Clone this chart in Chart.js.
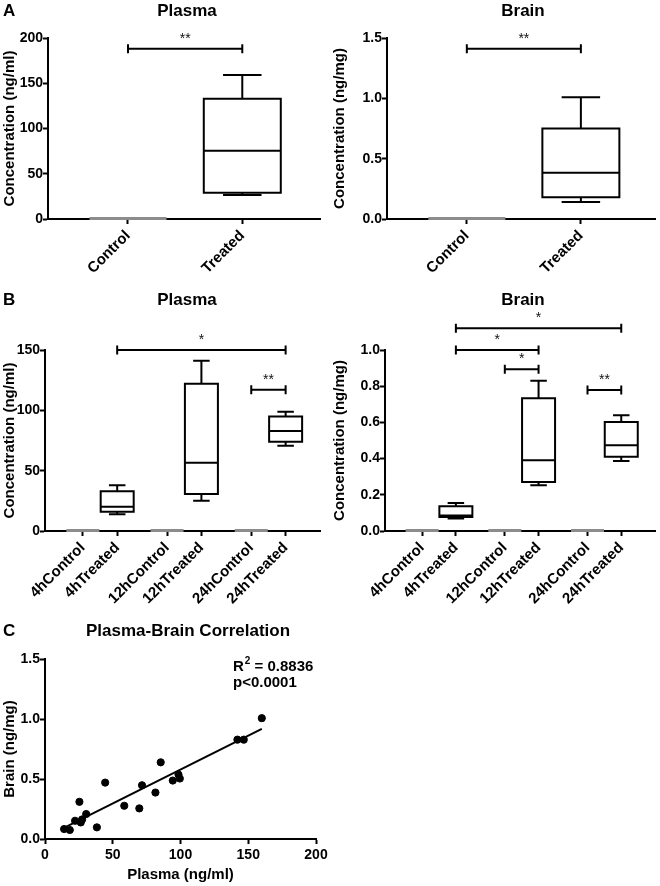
<!DOCTYPE html>
<html>
<head>
<meta charset="utf-8">
<script src="https://cdn.jsdelivr.net/npm/chart.js@4.4.1/dist/chart.umd.min.js"></script>
<style>
    body { margin: 0; background: #fff; }
    #page { position: relative; width: 660px; height: 886px; overflow: hidden; }
    #page canvas { position: absolute; }
</style>
</head>
<body>
<div id="page">
    <canvas id="aPlasma" width="330" height="290" style="left:0;top:0"></canvas>
    <canvas id="aBrain" width="330" height="290" style="left:330px;top:0"></canvas>
    <canvas id="bPlasma" width="330" height="315" style="left:0;top:290px"></canvas>
    <canvas id="bBrain" width="330" height="315" style="left:330px;top:290px"></canvas>
    <canvas id="cCorr" width="340" height="281" style="left:0;top:605px"></canvas>
</div>
<script>
// ---- data ----
const groupsA = ["Control", "Treated"];
const groupsB = ["4hControl", "4hTreated", "12hControl", "12hTreated", "24hControl", "24hTreated"];

// box stats per group: [min, q1, median, q3, max]
const plasmaA = [[0, 0, 0, 0, 0], [26.5, 29, 75.5, 133, 159]];
const brainA = [[0, 0, 0, 0, 0], [0.141, 0.18, 0.384, 0.751, 1.008]];
const plasmaB = [
    [0, 0, 0, 0, 0], [13.8, 16, 20, 33, 38],
    [0, 0, 0, 0, 0], [25, 30.7, 56.6, 122, 141],
    [0, 0, 0, 0, 0], [70.7, 74, 82.9, 94.8, 98.9]
];
const brainB = [
    [0, 0, 0, 0, 0], [0.069, 0.078, 0.086, 0.137, 0.155],
    [0, 0, 0, 0, 0], [0.253, 0.271, 0.391, 0.733, 0.83],
    [0, 0, 0, 0, 0], [0.387, 0.41, 0.474, 0.602, 0.639]
];

// significance brackets: [fromGroup, toGroup, yValue, label]
const sigPlasmaA = [[0, 1, 188, "**"]];
const sigBrainA = [[0, 1, 1.41, "**"]];
const sigPlasmaB = [[1, 5, 150, "*"], [4, 5, 117, "**"]];
const sigBrainB = [[1, 5, 1.12, "*"], [1, 3, 1.0, "*"], [2, 3, 0.893, "*"], [4, 5, 0.779, "**"]];

// correlation scatter
const plasmaC = [14.1, 18.3, 22.2, 25.4, 26.4, 27.4, 30.4, 38.3, 44.4, 58.5, 69.6, 71.6, 81.5, 85.4, 94.3, 98.5, 99.5, 142, 146.7, 160];
const brainC = [0.083, 0.075, 0.152, 0.31, 0.138, 0.163, 0.208, 0.097, 0.47, 0.277, 0.255, 0.448, 0.387, 0.639, 0.487, 0.537, 0.504, 0.828, 0.828, 1.007];
const fitX = [14, 160];
const fitY = [0.092, 0.918];
const fitR2 = "0.8836";
const fitP = "p<0.0001";

// x positions of the groups on the linear axis (gaps between time points)
const posA = [1, 2];
const posB = [1.1, 2.1, 3.55, 4.55, 6, 7];

const FAMILY = "'Liberation Sans', Arial, sans-serif";
const yTickFont = { family: FAMILY, size: 14, weight: "bold" };
const xTickFont = { family: FAMILY, size: 15, weight: "bold" };
const axisTitleFont = { family: FAMILY, size: 15, weight: "bold" };

// box plots, brackets and free text, all placed through the chart scales
const figurePlugin = {
    id: "figure",
    afterDatasetsDraw(chart, args, opts) {
        const ctx = chart.ctx;
        const xs = chart.scales.x;
        const ys = chart.scales.y;
        ctx.save();
        ctx.strokeStyle = "#000";
        ctx.lineWidth = 2;

        if (opts.boxes) {
            const half = opts.half;
            opts.boxes.forEach((b, i) => {
                const x = xs.getPixelForValue(opts.pos[i]);
                if (b[4] === 0) {
                    // all-zero group: grey flat box on the axis
                    ctx.fillStyle = "#8c8c8c";
                    ctx.fillRect(x - half, ys.getPixelForValue(0) - 2, half * 2, 3);
                    return;
                }
                const [mn, q1, md, q3, mx] = b.map(v => ys.getPixelForValue(v));
                ctx.beginPath();
                ctx.rect(x - half, q3, half * 2, q1 - q3);
                ctx.moveTo(x - half, md); ctx.lineTo(x + half, md);
                ctx.moveTo(x, q3); ctx.lineTo(x, mx);
                ctx.moveTo(x - half / 2, mx); ctx.lineTo(x + half / 2, mx);
                ctx.moveTo(x, q1); ctx.lineTo(x, mn);
                ctx.moveTo(x - half / 2, mn); ctx.lineTo(x + half / 2, mn);
                ctx.stroke();
            });
        }

        if (opts.sig) {
            for (const [a, b, v, label] of opts.sig) {
                const x1 = xs.getPixelForValue(opts.pos[a]);
                const x2 = xs.getPixelForValue(opts.pos[b]);
                const y = ys.getPixelForValue(v);
                ctx.beginPath();
                ctx.moveTo(x1, y); ctx.lineTo(x2, y);
                ctx.moveTo(x1, y - 4.5); ctx.lineTo(x1, y + 4.5);
                ctx.moveTo(x2, y - 4.5); ctx.lineTo(x2, y + 4.5);
                ctx.stroke();
                ctx.fillStyle = "#111";
                ctx.font = "14px " + FAMILY;
                ctx.textAlign = "center";
                ctx.textBaseline = "alphabetic";
                ctx.fillText(label, (x1 + x2) / 2, y - 6);
            }
        }
        ctx.restore();
    },
    afterDraw(chart, args, opts) {
        const ctx = chart.ctx;
        ctx.save();
        ctx.fillStyle = "#000";
        ctx.textBaseline = "alphabetic";
        for (const t of opts.texts || []) {
            ctx.font = t.font;
            ctx.textAlign = t.align || "left";
            ctx.fillText(t.text, t.x, t.y);
        }
        if (opts.r2) {
            // R² annotation with superscript
            let x = opts.r2.x;
            const y = opts.r2.y;
            ctx.textAlign = "left";
            ctx.font = "bold 15px " + FAMILY;
            ctx.fillText("R", x, y);
            x += ctx.measureText("R").width;
            ctx.font = "bold 10px " + FAMILY;
            ctx.fillText("2", x + 1, y - 7);
            x += ctx.measureText("2").width + 1;
            ctx.font = "bold 15px " + FAMILY;
            ctx.fillText(" = " + fitR2, x, y);
            ctx.fillText(fitP, opts.r2.x, y + 16);
        }
        ctx.restore();
    }
};

function gridOpts() {
    return {
        drawOnChartArea: false,
        drawTicks: true,
        tickLength: 5,
        tickWidth: 2,
        tickColor: "#000"
    };
}

function valueAxis(min, max, step, decimals, title, width) {
    return {
        min: min,
        max: max,
        ticks: {
            stepSize: step,
            color: "#000",
            font: yTickFont,
            padding: 0,
            callback: v => v.toFixed(decimals)
        },
        grid: gridOpts(),
        border: { display: true, color: "#000", width: 2 },
        title: { display: true, text: title, color: "#000", font: axisTitleFont, padding: { top: 1, bottom: 0 } },
        afterFit: s => { s.width = width; }
    };
}

function groupAxis(min, max, positions, labels, height) {
    return {
        type: "linear",
        min: min,
        max: max,
        afterBuildTicks: s => { s.ticks = positions.map(p => ({ value: p })); },
        ticks: {
            autoSkip: false,
            minRotation: 45,
            maxRotation: 45,
            color: "#000",
            font: xTickFont,
            padding: 3,
            callback: (v, i) => labels[i]
        },
        grid: gridOpts(),
        border: { display: true, color: "#000", width: 2 },
        afterFit: s => { s.height = height; }
    };
}

function titleText(text, x, y) {
    return { text: text, x: x, y: y, font: "bold 17px " + FAMILY, align: "center" };
}

function letterText(text, y) {
    return { text: text, x: 3, y: y, font: "bold 17px " + FAMILY, align: "left" };
}

function boxChart(id, cfg) {
    return new Chart(document.getElementById(id), {
        type: "scatter",
        data: { datasets: [] },
        options: {
            responsive: false,
            animation: false,
            layout: { padding: cfg.padding },
            plugins: {
                legend: { display: false },
                tooltip: { enabled: false },
                figure: {
                    boxes: cfg.boxes,
                    pos: cfg.pos,
                    half: cfg.half,
                    sig: cfg.sig,
                    texts: cfg.texts
                }
            },
            scales: {
                x: groupAxis(cfg.xMin, cfg.xMax, cfg.pos, cfg.labels, cfg.xHeight),
                y: valueAxis(cfg.yMin, cfg.yMax, cfg.step, cfg.decimals, cfg.yTitle, cfg.yWidth)
            }
        },
        plugins: [figurePlugin]
    });
}

boxChart("aPlasma", {
    boxes: plasmaA, pos: posA, labels: groupsA, sig: sigPlasmaA, half: 38.5,
    xMin: 0.3, xMax: 2.68, xHeight: 71,
    yMin: 0, yMax: 200, step: 50, decimals: 0, yTitle: "Concentration (ng/ml)", yWidth: 48,
    padding: { top: 38, right: 10, left: 0, bottom: 0 },
    texts: [letterText("A", 16), titleText("Plasma", 187, 16)]
});

boxChart("aBrain", {
    boxes: brainA, pos: posA, labels: groupsA, sig: sigBrainA, half: 38.5,
    xMin: 0.3, xMax: 2.65, xHeight: 71,
    yMin: 0, yMax: 1.5, step: 0.5, decimals: 1, yTitle: "Concentration (ng/mg)", yWidth: 57,
    padding: { top: 38, right: 5, left: 0, bottom: 0 },
    texts: [titleText("Brain", 193, 16)]
});

boxChart("bPlasma", {
    boxes: plasmaB, pos: posB, labels: groupsB, sig: sigPlasmaB, half: 16.5,
    xMin: 0, xMax: 8, xHeight: 74,
    yMin: 0, yMax: 150, step: 50, decimals: 0, yTitle: "Concentration (ng/ml)", yWidth: 45,
    padding: { top: 60, right: 10, left: 0, bottom: 0 },
    texts: [letterText("B", 15), titleText("Plasma", 187, 15)]
});

boxChart("bBrain", {
    boxes: brainB, pos: posB, labels: groupsB, sig: sigBrainB, half: 16.5,
    xMin: 0, xMax: 8, xHeight: 74,
    yMin: 0, yMax: 1.0, step: 0.2, decimals: 1, yTitle: "Concentration (ng/mg)", yWidth: 55,
    padding: { top: 60, right: 5, left: 0, bottom: 0 },
    texts: [titleText("Brain", 193, 15)]
});

// panel C: scatter with regression line
new Chart(document.getElementById("cCorr"), {
    type: "scatter",
    data: {
        datasets: [
            {
                data: plasmaC.map((x, i) => ({ x: x, y: brainC[i] })),
                backgroundColor: "#000",
                borderColor: "#000",
                pointRadius: 3.6,
                pointHoverRadius: 3.6
            },
            {
                type: "line",
                data: fitX.map((x, i) => ({ x: x, y: fitY[i] })),
                borderColor: "#000",
                borderWidth: 2,
                pointRadius: 0,
                fill: false
            }
        ]
    },
    options: {
        responsive: false,
        animation: false,
        layout: { padding: { top: 54, right: 24, left: 0, bottom: 0 } },
        plugins: {
            legend: { display: false },
            tooltip: { enabled: false },
            figure: {
                texts: [letterText("C", 31), titleText("Plasma-Brain Correlation", 188, 31)],
                r2: { x: 233, y: 66 }
            }
        },
        scales: {
            x: {
                type: "linear",
                min: 0,
                max: 200,
                ticks: { stepSize: 50, color: "#000", font: yTickFont, padding: 3 },
                grid: gridOpts(),
                border: { display: true, color: "#000", width: 2 },
                title: { display: true, text: "Plasma (ng/ml)", color: "#000", font: axisTitleFont, padding: { top: 0, bottom: 2 } },
                afterFit: s => { s.height = 47; }
            },
            y: valueAxis(0, 1.5, 0.5, 1, "Brain (ng/mg)", 45)
        }
    },
    plugins: [figurePlugin]
});
</script>
</body>
</html>
